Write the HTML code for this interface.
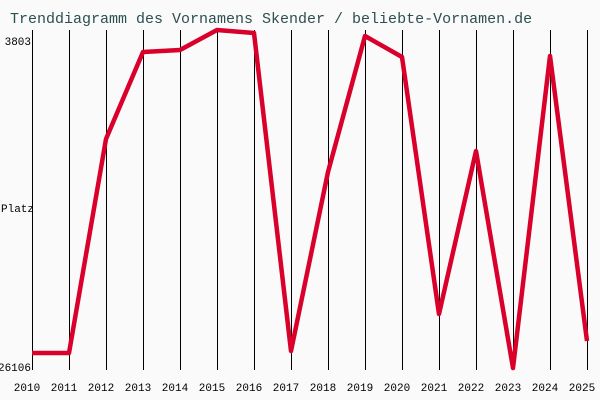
<!DOCTYPE html>
<html><head><meta charset="utf-8"><style>
body{margin:0;background:#fafafa;}
svg{display:block;font-family:"Liberation Mono",monospace;}
</style></head><body>
<svg id="chart" width="600" height="400" viewBox="0 0 600 400">
<rect width="600" height="400" fill="#fafafa"/>
<text x="10" y="23" font-size="15" fill="#2d4f4f">Trenddiagramm des Vornamens Skender / beliebte-Vornamen.de</text>
<g id="grid" shape-rendering="crispEdges"></g>
<g id="labels" font-family="Liberation Mono, monospace" font-size="11" fill="#000"></g>
<text x="1" y="212" font-size="11" font-family="Liberation Mono, monospace">Platz</text>
<polyline id="line" fill="none" stroke="#d9002b" stroke-width="4.5" stroke-linejoin="round"/>
</svg>
<script>
const years = [2010,2011,2012,2013,2014,2015,2016,2017,2018,2019,2020,2021,2022,2023,2024,2025];
const ranks = [24992,24992,10953,5246,5115,3803,4000,24861,13118,4197,5574,22433,11741,25976,5509,24205];
const yTicks = [3803,26106];
const svgNS = "http://www.w3.org/2000/svg";
const x0=32, dx=37, yTop=30, yBot=370;
function xs(i){return x0+i*dx;}
function ys(v){return yTop+(v-yTicks[0])/(yTicks[1]-yTicks[0])*(yBot-yTop);}
const grid=document.getElementById('grid'), labels=document.getElementById('labels');
years.forEach((yr,i)=>{
  const l=document.createElementNS(svgNS,'line');
  l.setAttribute('x1',xs(i)+0.5);l.setAttribute('x2',xs(i)+0.5);
  l.setAttribute('y1',yTop);l.setAttribute('y2',yBot);
  l.setAttribute('stroke','#000');l.setAttribute('stroke-width','1');
  
  
  grid.appendChild(l);
  const t=document.createElementNS(svgNS,'text');
  t.setAttribute('x',xs(i)-5);t.setAttribute('y',391);
  t.setAttribute('text-anchor','middle');t.textContent=yr;
  
  
  labels.appendChild(t);
});
yTicks.forEach(v=>{
  const t=document.createElementNS(svgNS,'text');
  t.setAttribute('x',31);t.setAttribute('y',Math.min(ys(v)+15,371));
  t.setAttribute('text-anchor','end');t.textContent=v;
  
  
  labels.appendChild(t);
});
document.getElementById('line').setAttribute('points',ranks.map((v,i)=>xs(i)+','+ys(v)).join(' '));
</script>
</body></html>
